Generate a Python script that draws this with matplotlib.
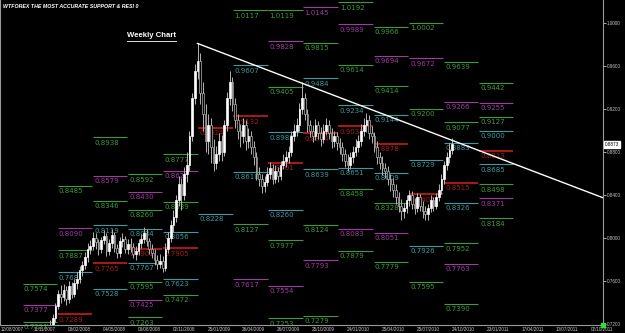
import matplotlib.pyplot as plt
import matplotlib.transforms as mtransforms

# weekly candles, bar index starts at FIRST_BAR (bar 0 = 12/08/2007)
FIRST_BAR = 11
PREV_CLOSE = 0.703

closes = [
    0.706, 0.709, 0.713, 0.716, 0.719, 0.726, 0.737, 0.748, 0.745, 0.752,
    0.743, 0.755, 0.748, 0.758, 0.762, 0.770, 0.775, 0.782, 0.790, 0.793,
    0.800, 0.796, 0.790, 0.798, 0.802, 0.788, 0.795, 0.803, 0.791, 0.786,
    0.797, 0.799, 0.790, 0.794, 0.792, 0.785, 0.788, 0.795, 0.799, 0.805,
    0.797, 0.790, 0.786, 0.780, 0.776, 0.779, 0.772, 0.790, 0.800, 0.812,
    0.820, 0.835, 0.850, 0.840, 0.860, 0.868, 0.895, 0.930, 0.955, 0.965,
    0.935, 0.915, 0.890, 0.905, 0.885, 0.870, 0.878, 0.890, 0.880, 0.905,
    0.930, 0.945, 0.925, 0.910, 0.900, 0.895, 0.905, 0.890, 0.895, 0.885,
    0.875, 0.860, 0.855, 0.848, 0.852, 0.860, 0.865, 0.855, 0.862, 0.858,
    0.868, 0.872, 0.875, 0.880, 0.895, 0.900, 0.905, 0.920, 0.930, 0.915,
    0.905, 0.900, 0.895, 0.905, 0.898, 0.892, 0.900, 0.905, 0.898, 0.890,
    0.895, 0.888, 0.885, 0.878, 0.872, 0.868, 0.875, 0.880, 0.885, 0.890,
    0.900, 0.905, 0.910, 0.898, 0.895, 0.885, 0.875, 0.870, 0.865, 0.862,
    0.855, 0.850, 0.845, 0.838, 0.830, 0.825, 0.828, 0.835, 0.840, 0.832,
    0.828, 0.838, 0.830, 0.825, 0.822, 0.828, 0.835, 0.830, 0.838, 0.845,
    0.855, 0.868, 0.875, 0.882, 0.8873,
]
highs = [
    0.710, 0.713, 0.717, 0.720, 0.724, 0.729, 0.740, 0.752, 0.756, 0.757,
    0.755, 0.760, 0.759, 0.762, 0.768, 0.774, 0.779, 0.787, 0.795, 0.798,
    0.806, 0.805, 0.799, 0.801, 0.807, 0.805, 0.799, 0.808, 0.806, 0.794,
    0.801, 0.805, 0.802, 0.799, 0.800, 0.795, 0.793, 0.799, 0.804, 0.810,
    0.808, 0.800, 0.794, 0.790, 0.784, 0.785, 0.783, 0.795, 0.806, 0.817,
    0.826, 0.840, 0.858, 0.856, 0.866, 0.880, 0.900, 0.935, 0.962, 0.981,
    0.972, 0.945, 0.925, 0.915, 0.912, 0.892, 0.886, 0.898, 0.896, 0.910,
    0.936, 0.955, 0.950, 0.930, 0.915, 0.906, 0.912, 0.910, 0.902, 0.900,
    0.890, 0.880, 0.866, 0.860, 0.858, 0.866, 0.871, 0.869, 0.868, 0.866,
    0.872, 0.878, 0.881, 0.886, 0.900, 0.906, 0.912, 0.926, 0.945, 0.935,
    0.920, 0.910, 0.905, 0.911, 0.909, 0.903, 0.906, 0.912, 0.910, 0.902,
    0.900, 0.899, 0.893, 0.889, 0.883, 0.878, 0.880, 0.886, 0.892, 0.896,
    0.906, 0.912, 0.916, 0.914, 0.904, 0.899, 0.890, 0.880, 0.876, 0.870,
    0.867, 0.860, 0.856, 0.850, 0.843, 0.836, 0.833, 0.840, 0.845, 0.844,
    0.837, 0.842, 0.841, 0.834, 0.830, 0.832, 0.840, 0.838, 0.842, 0.850,
    0.860, 0.872, 0.880, 0.888, 0.893,
]
lows = [
    0.700, 0.703, 0.706, 0.709, 0.712, 0.715, 0.722, 0.734, 0.740, 0.741,
    0.738, 0.740, 0.744, 0.745, 0.753, 0.758, 0.765, 0.771, 0.778, 0.785,
    0.789, 0.790, 0.784, 0.786, 0.794, 0.783, 0.784, 0.791, 0.787, 0.781,
    0.782, 0.792, 0.786, 0.785, 0.787, 0.781, 0.780, 0.784, 0.791, 0.795,
    0.793, 0.785, 0.781, 0.775, 0.771, 0.772, 0.768, 0.769, 0.786, 0.796,
    0.806, 0.815, 0.830, 0.826, 0.835, 0.852, 0.862, 0.890, 0.925, 0.948,
    0.925, 0.900, 0.880, 0.878, 0.870, 0.862, 0.864, 0.872, 0.872, 0.876,
    0.900, 0.924, 0.918, 0.902, 0.892, 0.885, 0.888, 0.882, 0.884, 0.878,
    0.868, 0.854, 0.848, 0.842, 0.843, 0.848, 0.855, 0.850, 0.851, 0.852,
    0.854, 0.864, 0.866, 0.870, 0.876, 0.890, 0.895, 0.900, 0.915, 0.910,
    0.899, 0.894, 0.889, 0.891, 0.892, 0.886, 0.888, 0.896, 0.892, 0.884,
    0.885, 0.882, 0.878, 0.872, 0.866, 0.862, 0.864, 0.870, 0.876, 0.880,
    0.886, 0.895, 0.899, 0.892, 0.888, 0.880, 0.869, 0.864, 0.859, 0.856,
    0.849, 0.844, 0.838, 0.832, 0.824, 0.817, 0.819, 0.823, 0.830, 0.827,
    0.822, 0.824, 0.825, 0.819, 0.817, 0.817, 0.824, 0.825, 0.827, 0.834,
    0.841, 0.850, 0.863, 0.870, 0.878,
]

date_labels = [
    "12/08/2007", "11/11/2007", "03/02/2008", "04/05/2008", "03/08/2008",
    "02/11/2008", "25/01/2009", "26/04/2009", "26/07/2009", "25/10/2009",
    "24/01/2010", "25/04/2010", "25/07/2010", "24/10/2010", "23/01/2011",
    "17/04/2011", "10/07/2011", "02/10/2011",
]
axis_prices = [1.0, 0.96, 0.92, 0.88, 0.84, 0.80, 0.76, 0.72]
current_price = 0.8873

trend_bars = [70, 109]
trend_prices = [0.981, 0.944]

# support / resistance levels, one column per quarter
level_cols = (
    [0] * 3 + [1] * 5 + [2] * 6 + [3] * 9 + [4] * 7 + [5] * 2 + [6] * 6
    + [7] * 9 + [8] * 8 + [9] * 9 + [10] * 9 + [11] * 7 + [12] * 9 + [13] * 9
)
level_texts = [
    "0.7574", "0.7377", "0.7221",
    "0.8485", "0.8090", "0.7887", "0.7681", "0.7289",
    "0.8938", "0.8579", "0.8346", "0.8119", "0.7765", "0.7528",
    "0.8592", "0.8430", "0.8260", "0.8084", "0.7901", "0.7767", "0.7595", "0.7425", "0.7263",
    "0.8777", "0.8625", "0.8339", "0.8056", "0.7905", "0.7623", "0.7472",
    "0.9024", "0.8228",
    "1.0117", "0.9607", "0.9132", "0.8618", "0.8127", "0.7617",
    "1.0119", "0.9828", "0.9405", "0.8982", "0.8701", "0.8260", "0.7977", "0.7554", "0.7253",
    "1.0145", "0.9815", "0.9484", "0.8974", "0.8639", "0.8124", "0.7793", "0.7279",
    "1.0192", "0.9989", "0.9614", "0.9234", "0.9038", "0.8651", "0.8458", "0.8083", "0.7879",
    "0.9966", "0.9694", "0.9414", "0.9144", "0.8878", "0.8609", "0.8328", "0.8051", "0.7779",
    "1.0002", "0.9672", "0.9200", "0.8729", "0.8405", "0.7926", "0.7595",
    "0.9639", "0.9266", "0.9077", "0.8883", "0.8515", "0.8326", "0.7952", "0.7763", "0.7390",
    "0.9442", "0.9255", "0.9127", "0.9000", "0.8813", "0.8685", "0.8498", "0.8371", "0.8184",
]
level_kinds = [
    "G", "M", "G",
    "G", "M", "G", "T", "R",
    "G", "M", "G", "T", "R", "T",
    "G", "M", "G", "T", "R", "T", "G", "M", "G",
    "G", "M", "G", "T", "R", "T", "G",
    "R", "T",
    "G", "T", "R", "T", "G", "M",
    "G", "M", "G", "T", "R", "T", "G", "M", "G",
    "M", "G", "T", "R", "T", "G", "M", "G",
    "G", "M", "G", "T", "R", "T", "G", "M", "G",
    "G", "M", "G", "T", "R", "T", "G", "M", "G",
    "G", "M", "G", "T", "R", "T", "G",
    "G", "M", "G", "T", "R", "T", "G", "M", "G",
    "G", "M", "G", "T", "R", "T", "G", "M", "G",
]

KIND_COLORS = {"G": "#3c9b3c", "M": "#a03ca0", "T": "#3c9aa0", "R": "#c81e1e"}
KIND_TEXT = {"G": "#3c9b3c", "M": "#a03ca0", "T": "#3c9aa0", "R": "#a81c1c"}

X_MIN, X_MAX = -3.7, 221.3
Y_MIN, Y_MAX = 0.7191, 1.0214
COL_START = 4.7
COL_WIDTH = 13.1
SMALL_FONT = "Liberation Sans"


def main():
    fig = plt.figure(figsize=(6.25, 3.33), dpi=100, facecolor="black")
    ax = fig.add_axes([0.0, 8 / 333, 603 / 625, 325 / 333], facecolor="black")
    ax.set_xlim(X_MIN, X_MAX)
    ax.set_ylim(Y_MIN, Y_MAX)

    draw_levels(ax)
    draw_candles(ax)
    draw_trend(ax)
    style_axes(ax)

    ax.text(0.005, 0.987, "WTFOREX THE MOST ACCURATE SUPPORT & RESI 0",
            transform=ax.transAxes, color="white", fontsize=3.8,
            family=SMALL_FONT, fontweight="bold", fontstyle="italic",
            va="top", ha="left")
    ax.text(0.2105, 0.89, "Weekly Chart", transform=ax.transAxes,
            color="white", fontsize=5.6, fontweight="bold",
            family=SMALL_FONT, va="center", ha="left")
    ax.plot([0.2105, 0.292], [0.875, 0.875], transform=ax.transAxes,
            color="white", lw=0.6)

    fig.savefig("out.png", dpi=100, facecolor="black")


def draw_levels(ax):
    for col, text, kind in zip(level_cols, level_texts, level_kinds):
        value = float(text)
        x0 = COL_START + col * COL_WIDTH
        lw = 1.2 if kind == "R" else 0.8
        ax.hlines(value, x0, x0 + COL_WIDTH - 0.2, color=KIND_COLORS[kind], lw=lw, zorder=2)
        ax.text(x0 + 0.5, value - 0.0022, text, color=KIND_TEXT[kind],
                fontsize=5, va="top", ha="left", zorder=2)


def draw_candles(ax):
    opens = [PREV_CLOSE] + closes[:-1]
    for i, (o, h, l, c) in enumerate(zip(opens, highs, lows, closes)):
        x = FIRST_BAR + i
        bull = c >= o
        ax.vlines(x, l, h, color="#b4b4b4", lw=0.7, zorder=3)
        face = "white" if bull else "black"
        edge = "white" if bull else "#b4b4b4"
        height = max(abs(c - o), 0.0006)
        ax.bar(x, height, bottom=min(o, c), width=0.62, color=face,
               edgecolor=edge, linewidth=0.5, zorder=4)


def draw_trend(ax):
    slope = (trend_prices[1] - trend_prices[0]) / (trend_bars[1] - trend_bars[0])
    end_price = trend_prices[0] + slope * (X_MAX - trend_bars[0])
    ax.plot([trend_bars[0], X_MAX], [trend_prices[0], end_price],
            color="white", lw=1.0, zorder=5)


def style_axes(ax):
    ax.spines["top"].set_visible(False)
    for side in ("left", "right", "bottom"):
        ax.spines[side].set_color("#9a9a9a")
        ax.spines[side].set_linewidth(0.8)

    ax.yaxis.tick_right()
    ax.set_yticks(axis_prices)
    ax.set_yticklabels(["%.4f" % p for p in axis_prices],
                       fontfamily=SMALL_FONT)
    ax.tick_params(axis="y", colors="#c8c8c8", labelsize=3.3, length=2,
                   width=0.6, pad=0.8)

    # first date label sits flush with the left edge, the rest are centred
    ticks = [X_MIN + 0.3] + [13 * k for k in range(1, len(date_labels))]
    ax.set_xticks(ticks)
    ax.set_xticklabels(date_labels, fontfamily=SMALL_FONT)
    ax.get_xticklabels()[0].set_horizontalalignment("left")
    ax.tick_params(axis="x", colors="#c8c8c8", labelsize=3.3, length=0, pad=1.2)

    trans = mtransforms.blended_transform_factory(ax.transAxes, ax.transData)
    ax.text(1.003, current_price, "%.4f" % current_price, transform=trans,
            color="black", fontsize=3.3, family=SMALL_FONT, va="center",
            ha="left", bbox=dict(facecolor="white", edgecolor="white", pad=0.8))
    ax.plot([X_MAX], [Y_MIN], marker="s", markersize=3, color="#33dd33",
            clip_on=False, zorder=6)


if __name__ == "__main__":
    main()
